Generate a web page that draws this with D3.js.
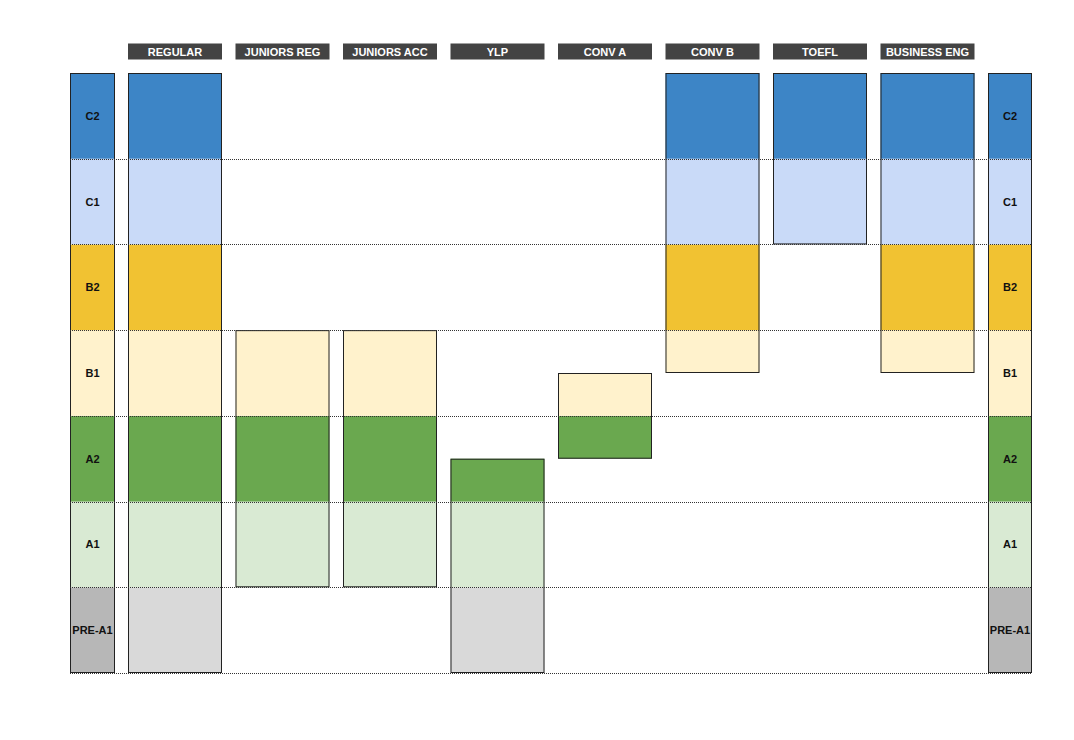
<!DOCTYPE html>
<html><head><meta charset="utf-8">
<script src="https://cdn.jsdelivr.net/npm/d3@7"></script>
<style>body{margin:0;background:#fff}</style>
</head><body>
<script>
const levels = ["PRE-A1","A1","A2","B1","B2","C1","C2"];
const levelColors = ["#b7b7b7","#d9ead3","#6aa84f","#fff2cc","#f1c232","#c9daf8","#3d85c6"];
const courseLevelColors = ["#d9d9d9","#d9ead3","#6aa84f","#fff2cc","#f1c232","#c9daf8","#3d85c6"];
const courses = ["REGULAR","JUNIORS REG","JUNIORS ACC","YLP","CONV A","CONV B","TOEFL","BUSINESS ENG"];
const courseFrom = [0, 1, 1, 0, 2.5, 3.5, 5, 3.5];
const courseTo   = [7, 4, 4, 2.5, 3.5, 7, 7, 7];

const W = 1074, H = 740;
const svg = d3.select("body").append("svg").attr("width", W).attr("height", H);
const y = d3.scaleLinear().domain([0, levels.length]).range([673, 73]);
const x = d3.scaleBand().domain(courses).range([128, 974.5]).paddingInner(0.1256);
const side = [{x0: 70, x1: 115}, {x0: 988, x1: 1032}];
const font = "Arial, 'Liberation Sans', sans-serif";

// side level columns
side.forEach(s => {
  const g = svg.append("g");
  g.selectAll("rect").data(levels).join("rect")
    .attr("x", s.x0).attr("width", s.x1 - s.x0)
    .attr("y", (d, i) => y(i + 1)).attr("height", (d, i) => y(i) - y(i + 1))
    .attr("fill", (d, i) => levelColors[i]);
  g.append("rect").attr("x", s.x0 + 0.5).attr("y", y(levels.length) + 0.5)
    .attr("width", s.x1 - s.x0 - 1).attr("height", y(0) - y(levels.length) - 1)
    .attr("fill", "none").attr("stroke", "#222").attr("stroke-width", 1);
  g.selectAll("text").data(levels).join("text")
    .attr("x", (s.x0 + s.x1) / 2).attr("y", (d, i) => (y(i) + y(i + 1)) / 2)
    .attr("text-anchor", "middle").attr("dominant-baseline", "central")
    .attr("font-family", font).attr("font-size", 11).attr("font-weight", "bold")
    .attr("fill", "#111").text(d => d);
});

// course blocks
courses.forEach((c, ci) => {
  const g = svg.append("g");
  const lo = courseFrom[ci], hi = courseTo[ci];
  const segs = [];
  levels.forEach((l, li) => {
    const a = Math.max(lo, li), b = Math.min(hi, li + 1);
    if (b > a) segs.push({li, a, b});
  });
  g.selectAll("rect.seg").data(segs).join("rect").attr("class", "seg")
    .attr("x", x(c)).attr("width", x.bandwidth())
    .attr("y", d => y(d.b)).attr("height", d => y(d.a) - y(d.b))
    .attr("fill", d => courseLevelColors[d.li]);
  g.append("rect").attr("x", x(c) + 0.5).attr("y", y(hi) + 0.5)
    .attr("width", x.bandwidth() - 1).attr("height", y(lo) - y(hi) - 1)
    .attr("fill", "none").attr("stroke", "#222").attr("stroke-width", 1);
  // header
  svg.append("rect").attr("x", x(c)).attr("y", 43.5).attr("width", x.bandwidth()).attr("height", 16)
    .attr("fill", "#434343");
  svg.append("text").attr("x", x(c) + x.bandwidth() / 2).attr("y", 52)
    .attr("text-anchor", "middle").attr("dominant-baseline", "central")
    .attr("font-family", font).attr("font-size", 11).attr("font-weight", "bold")
    .attr("fill", "#fff").text(c);
});

// dotted grid lines
svg.append("g").selectAll("line").data(d3.range(0, levels.length)).join("line")
  .attr("x1", 70).attr("x2", 1032)
  .attr("y1", d => Math.round(y(d)) + 0.5).attr("y2", d => Math.round(y(d)) + 0.5)
  .attr("stroke", "#333").attr("stroke-width", 1).attr("stroke-dasharray", "1,1");
</script>
</body></html>
